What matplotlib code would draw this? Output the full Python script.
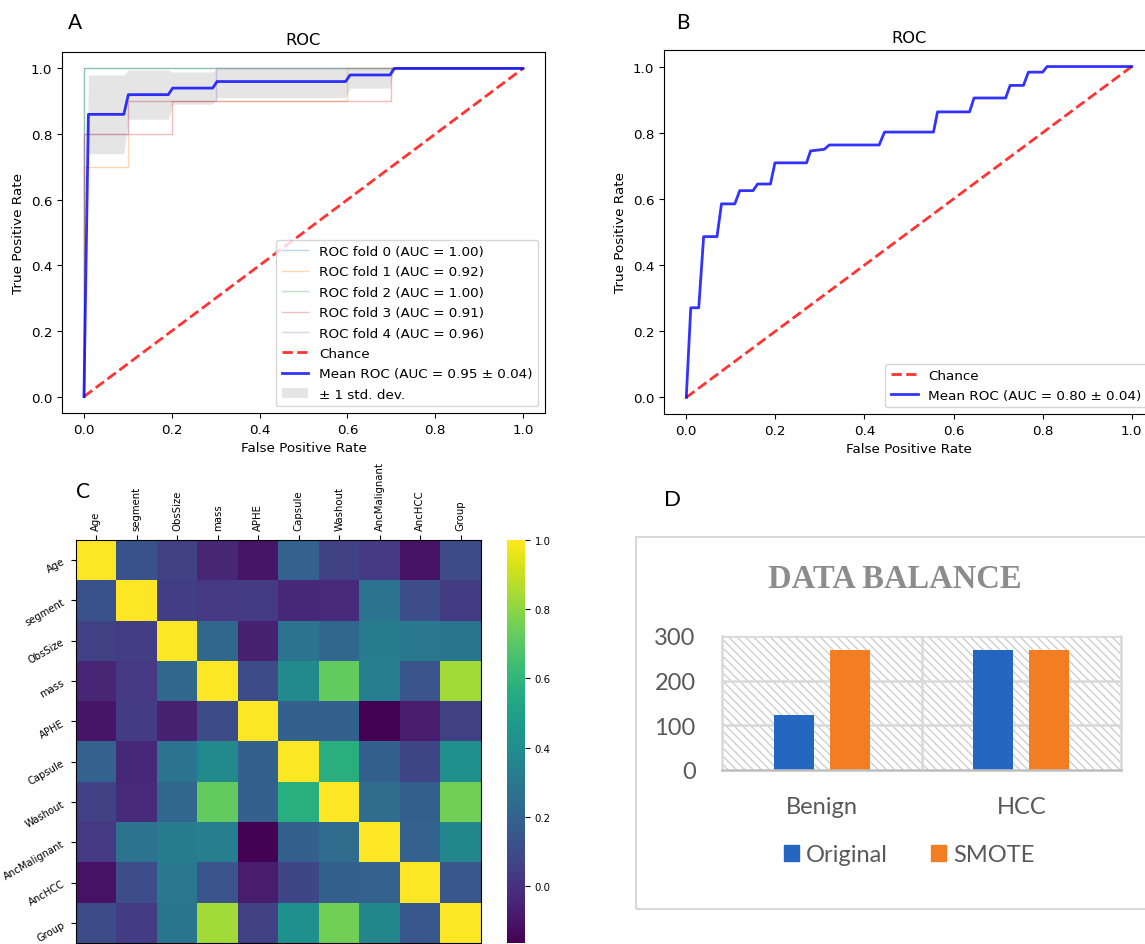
import numpy as np
import matplotlib.pyplot as plt
from matplotlib.patches import Rectangle, Patch

# ---- Panel A: ROC curves of the 5 folds
fold_fpr = [
    [0, 0, 1],
    [0, 0, 0.1, 0.1, 0.6, 0.6, 1],
    [0, 0, 1],
    [0, 0, 0.2, 0.2, 0.7, 0.7, 1],
    [0, 0, 0.1, 0.1, 0.3, 0.3, 1],
]
fold_tpr = [
    [0, 1, 1],
    [0, 0.7, 0.7, 0.9, 0.9, 1, 1],
    [0, 1, 1],
    [0, 0.8, 0.8, 0.9, 0.9, 1, 1],
    [0, 0.8, 0.8, 0.9, 0.9, 1, 1],
]
fold_auc = [1.00, 0.92, 1.00, 0.91, 0.96]

mean_fpr_a = [0, 0.0101, 0.0909, 0.101, 0.192, 0.202, 0.293, 0.303, 0.596, 0.606, 0.697, 0.707, 1.0]
mean_tpr_a = [0, 0.86, 0.86, 0.92, 0.92, 0.94, 0.94, 0.96, 0.96, 0.98, 0.98, 1.0, 1.0]
std_lo_a = [0, 0.74, 0.74, 0.845, 0.845, 0.891, 0.891, 0.911, 0.911, 0.94, 0.94, 1.0, 1.0]
std_hi_a = [0, 0.98, 0.98, 0.995, 0.995, 0.989, 0.989, 1.0, 1.0, 1.0, 1.0, 1.0, 1.0]
auc_a = (0.95, 0.04)

# ---- Panel B: mean ROC
mean_fpr_b = [0, 0.0101, 0.028, 0.039, 0.069, 0.079, 0.109, 0.12, 0.15, 0.16, 0.189, 0.199,
              0.27, 0.279, 0.31, 0.321, 0.433, 0.445, 0.555, 0.564, 0.636, 0.646, 0.717,
              0.727, 0.757, 0.768, 0.8, 0.81, 1.0]
mean_tpr_b = [0, 0.271, 0.271, 0.486, 0.486, 0.585, 0.585, 0.625, 0.625, 0.645, 0.645, 0.709,
              0.709, 0.745, 0.75, 0.763, 0.763, 0.802, 0.802, 0.863, 0.863, 0.905, 0.905,
              0.943, 0.943, 0.983, 0.983, 1.0, 1.0]
auc_b = (0.80, 0.04)

# ---- Panel C: correlation matrix
features = ['Age', 'segment', 'ObsSize', 'mass', 'APHE', 'Capsule', 'Washout',
            'AncMalignant', 'AncHCC', 'Group']
corr = [
    [1.00, 0.13, 0.06, -0.04, -0.10, 0.20, 0.06, 0.03, -0.11, 0.10],
    [0.13, 1.00, 0.05, 0.03, 0.04, -0.03, -0.02, 0.28, 0.11, 0.04],
    [0.06, 0.05, 1.00, 0.22, -0.06, 0.28, 0.22, 0.33, 0.30, 0.29],
    [-0.04, 0.03, 0.22, 1.00, 0.10, 0.39, 0.72, 0.34, 0.14, 0.84],
    [-0.10, 0.04, -0.06, 0.10, 1.00, 0.19, 0.19, -0.165, -0.07, 0.06],
    [0.20, -0.03, 0.28, 0.39, 0.19, 1.00, 0.57, 0.19, 0.08, 0.42],
    [0.06, -0.02, 0.22, 0.72, 0.19, 0.57, 1.00, 0.25, 0.19, 0.75],
    [0.03, 0.28, 0.33, 0.34, -0.165, 0.19, 0.25, 1.00, 0.20, 0.37],
    [-0.11, 0.11, 0.30, 0.14, -0.07, 0.08, 0.19, 0.20, 1.00, 0.15],
    [0.10, 0.04, 0.29, 0.84, 0.06, 0.42, 0.75, 0.37, 0.15, 1.00],
]

# ---- Panel D: class balance
classes = ['Benign', 'HCC']
original = [123, 268]
smote = [268, 268]

W, H = 1145, 945


def box(l, t, r, b):
    # pixel box -> figure fraction
    return [l / W, 1 - b / H, (r - l) / W, (b - t) / H]


fig = plt.figure(figsize=(W / 100, H / 100), dpi=100)

fs = 9.7

# Panel A
ax = fig.add_axes(box(62, 53, 545, 414))
for i in range(5):
    ax.plot(fold_fpr[i], fold_tpr[i], lw=1, alpha=0.3, color='C%d' % i,
            label='ROC fold %d (AUC = %.2f)' % (i, fold_auc[i]))
ax.plot([0, 1], [0, 1], ls='--', lw=2, color='r', alpha=0.8, label='Chance')
ax.plot(mean_fpr_a, mean_tpr_a, color='b', lw=2, alpha=0.8,
        label='Mean ROC (AUC = %.2f ± %.2f)' % auc_a)
ax.fill_between(mean_fpr_a, std_lo_a, std_hi_a, color='grey', alpha=0.2, lw=0,
                label='± 1 std. dev.')
ax.set_xlim(-0.05, 1.05)
ax.set_ylim(-0.05, 1.05)
ax.set_title('ROC', fontsize=11.7)
ax.set_xlabel('False Positive Rate', fontsize=fs)
ax.set_ylabel('True Positive Rate', fontsize=fs)
ax.tick_params(labelsize=fs)
ax.legend(loc='lower right', fontsize=fs, labelspacing=0.55)

# Panel B
ax = fig.add_axes(box(664, 51, 1154, 415))
ax.plot([0, 1], [0, 1], ls='--', lw=2, color='r', alpha=0.8, label='Chance')
ax.plot(mean_fpr_b, mean_tpr_b, color='b', lw=2, alpha=0.8,
        label='Mean ROC (AUC = %.2f ± %.2f)' % auc_b)
ax.set_xlim(-0.05, 1.05)
ax.set_ylim(-0.05, 1.05)
ax.set_title('ROC', fontsize=11.7)
ax.set_xlabel('False Positive Rate', fontsize=fs)
ax.set_ylabel('True Positive Rate', fontsize=fs)
ax.tick_params(labelsize=fs)
ax.legend(loc='lower right', fontsize=fs)

# Panel C
ax = fig.add_axes(box(76, 541, 481, 944))
im = ax.matshow(np.array(corr), cmap='viridis', aspect='auto')
ax.set_xticks(range(len(features)))
ax.set_xticklabels(features, rotation=90, fontsize=7.3)
ax.set_yticks(range(len(features)))
ax.set_yticklabels(features, rotation=30, fontsize=7.2)
cax = fig.add_axes(box(507, 541, 525, 944))
cb = fig.colorbar(im, cax=cax, ticks=[0.0, 0.2, 0.4, 0.6, 0.8, 1.0])
cb.ax.tick_params(labelsize=7.3)
cb.outline.set_visible(False)

# Panel D
fig.add_artist(Rectangle((636 / W, 1 - 910 / H), (1160 - 636) / W, 372 / H,
                         transform=fig.transFigure, fill=False,
                         edgecolor='#d9d9d9', lw=1.5))
ax = fig.add_axes(box(722, 637, 1121, 771))
x = np.arange(len(classes))
ax.add_patch(Rectangle((-0.5, 0), 2, 300, facecolor='white', edgecolor='#cfcfcf',
                       hatch='\\\\\\\\', lw=0, zorder=0))
for yv in [100, 200, 300]:
    ax.axhline(yv, color='#d9d9d9', lw=1.8, zorder=1)
ax.axvline(0.5, color='#d9d9d9', lw=1.8, zorder=1)
b1 = ax.bar(x - 0.14, original, 0.2, color='#2566c0', zorder=2)
b2 = ax.bar(x + 0.14, smote, 0.2, color='#f37d22', zorder=2)
ax.set_xlim(-0.5, 1.5)
ax.set_ylim(0, 300)
ax.set_yticks([0, 100, 200, 300])
ax.set_xticks(x)
ax.set_xticklabels(classes)
ax.spines['top'].set_visible(False)
for s in ['left', 'right']:
    ax.spines[s].set_color('#d9d9d9')
    ax.spines[s].set_linewidth(1.8)
ax.spines['bottom'].set_color('#bfbfbf')
ax.spines['bottom'].set_linewidth(1.8)
ax.tick_params(length=0, labelsize=17, labelcolor='#595959')
ax.tick_params(axis='y', pad=19)
ax.tick_params(axis='x', pad=19)
for t in ax.get_xticklabels() + ax.get_yticklabels():
    t.set_family('Lato')
handles = [Patch(color='#2566c0'), Patch(color='#f37d22')]
fig.legend(handles, ['Original', 'SMOTE'], loc='center', bbox_to_anchor=(909 / W, 1 - 856 / H),
           ncol=2, frameon=False, prop={'family': 'Lato', 'size': 17},
           handlelength=0.65, handleheight=0.65, handletextpad=0.3, columnspacing=1.8,
           labelcolor='#595959')
fig.text(895 / W, 1 - 580 / H, 'DATA BALANCE', family='Liberation Serif', weight='bold',
         fontsize=23.5, color='#8c8c8c', ha='center', va='center')

# panel letters
for lab, px, py, size in [('A', 75, 23, 15), ('B', 683, 23, 15), ('C', 83, 492, 15), ('D', 673, 500, 16)]:
    fig.text(px / W, 1 - py / H, lab, family='Lato', fontsize=size, ha='center', va='center')

fig.savefig('out.png', dpi=100)
